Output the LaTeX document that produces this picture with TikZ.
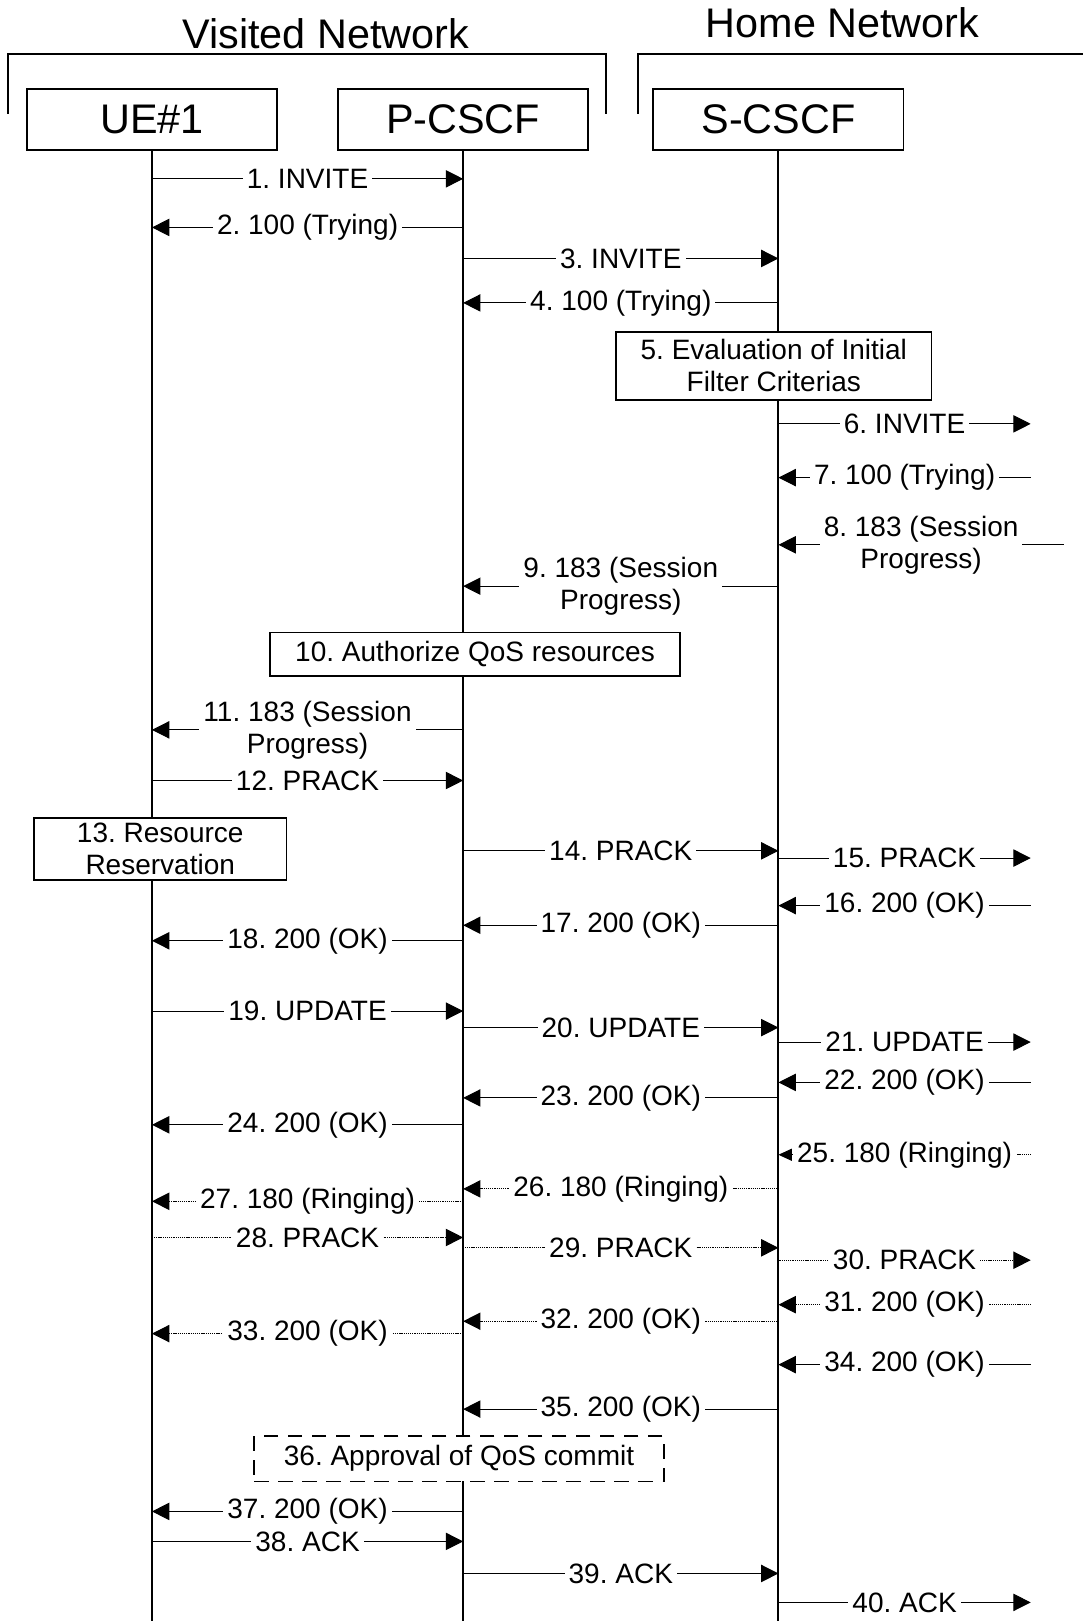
\documentclass[tikz,border=0pt]{standalone}
\usepackage{fontspec}
\setmainfont{Liberation Sans}
\usetikzlibrary{arrows.meta,positioning}
\frenchspacing
\tikzset{
  entity/.style   = {draw, line width=1.4pt, fill=white, minimum width=187.5pt,
                     minimum height=45.7pt, font=\fontsize{31}{36}\selectfont},
  action/.style   = {draw, line width=1.2pt, fill=white, align=center,
                     font=\fontsize{21}{24}\selectfont},
  lifeline/.style = {line width=1.5pt},
  bracket/.style  = {line width=1.2pt},
  msg/.style      = {-{Triangle[length=13pt,width=13pt]}, line width=0.75pt},
  dmsg/.style     = {msg, dash pattern=on 0.8pt off 0.6pt},
  lbl/.style      = {fill=white, inner xsep=3pt, inner ysep=0.5pt, align=center,
                     font=\fontsize{21}{24}\selectfont},
}
\begin{document}
\begin{tikzpicture}[x=0.775pt,y=-0.775pt]
\useasboundingbox (0,0) rectangle (1048,1568);
% network groups
\node[font=\fontsize{31}{36}\selectfont] (visited) at (315,33) {Visited Network};
\node[font=\fontsize{31}{36}\selectfont] (home) at (815,22) {Home Network};
\draw[bracket] (8,110) -- (8,52) -- (586,52) -- (586,110);
\draw[bracket] (617,110) -- (617,52) -- (1048,52);
% entities and lifelines
\node[entity] (UE) at (147,115.5) {UE\#1};
\node[entity] (PC) at (448,115.5) {P-CSCF};
\node[entity] (SC) at (753,115.5) {S-CSCF};
\foreach \e in {UE,PC,SC}
  \draw[lifeline] (\e.south) -- (\e.south |- 0,1568);
\coordinate (ext) at (997,0);
\coordinate (extw) at (1029,0);
% local actions
\node[action, minimum width=236.4pt, minimum height=51.2pt] (eval) at (748.5,354)
  {5. Evaluation of Initial\\Filter Criterias};
\node[action, minimum width=307.7pt, minimum height=32.6pt] (authqos) at (459.5,633)
  {10. Authorize QoS resources};
\node[action, minimum width=189.1pt, minimum height=46.5pt] (resres) at (155,821)
  {13. Resource\\Reservation};
\node[action, line width=1.4pt, dash pattern=on 11pt off 7pt,
      minimum width=306.9pt, minimum height=34.1pt] (approve) at (444,1411)
  {36. Approval of QoS commit};
% solid messages
\foreach \y/\a/\b/\t in {
  173/UE/PC/{1. INVITE}, 220/PC/UE/{2. 100 (Trying)},
  250/PC/SC/{3. INVITE}, 293/SC/PC/{4. 100 (Trying)},
  410/SC/ext/{6. INVITE}, 462/ext/SC/{7. 100 (Trying)},
  527/extw/SC/{8. 183 (Session\\Progress)}, 567/SC/PC/{9. 183 (Session\\Progress)},
  706/PC/UE/{11. 183 (Session\\Progress)}, 755/UE/PC/{12. PRACK},
  823/PC/SC/{14. PRACK}, 830/SC/ext/{15. PRACK},
  876/ext/SC/{16. 200 (OK)}, 895/SC/PC/{17. 200 (OK)},
  910/PC/UE/{18. 200 (OK)}, 978/UE/PC/{19. UPDATE},
  994/PC/SC/{20. UPDATE}, 1008/SC/ext/{21. UPDATE},
  1047/ext/SC/{22. 200 (OK)}, 1062/SC/PC/{23. 200 (OK)},
  1088/PC/UE/{24. 200 (OK)}, 1320/ext/SC/{34. 200 (OK)},
  1363/SC/PC/{35. 200 (OK)}, 1462/PC/UE/{37. 200 (OK)},
  1491/UE/PC/{38. ACK}, 1522/PC/SC/{39. ACK}, 1550/SC/ext/{40. ACK}}
  \draw[msg] (\a |- 0,\y) -- node[lbl]{\t} (\b |- 0,\y);
% provisional responses and their acknowledgements (dotted)
\draw[dmsg, -{Triangle[length=10pt,width=9pt]}] (ext |- 0,1117)
  -- node[lbl]{25. 180 (Ringing)} (SC |- 0,1117);
\foreach \y/\a/\b/\t in {
  1150/SC/PC/{26. 180 (Ringing)}, 1162/PC/UE/{27. 180 (Ringing)},
  1197/UE/PC/{28. PRACK}, 1207/PC/SC/{29. PRACK},
  1219/SC/ext/{30. PRACK}, 1262/ext/SC/{31. 200 (OK)},
  1278/SC/PC/{32. 200 (OK)}, 1290/PC/UE/{33. 200 (OK)}}
  \draw[dmsg] (\a |- 0,\y) -- node[lbl]{\t} (\b |- 0,\y);
\end{tikzpicture}
\end{document}
